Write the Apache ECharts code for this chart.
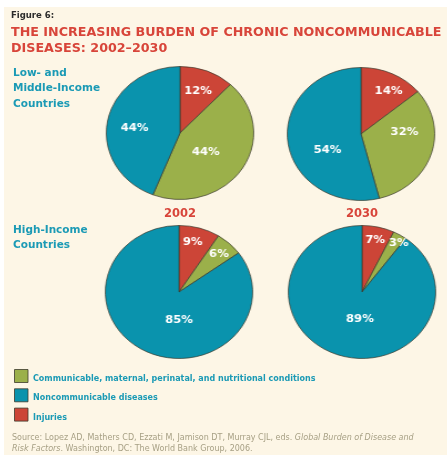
<!DOCTYPE html>
<html lang="en">
<head>
<meta charset="UTF-8">
<style>
  body { margin: 0; background: #fff; }
  #page { position: relative; width: 447px; height: 455px; }
  #main { position: absolute; left: 0; top: 0; width: 447px; height: 455px; }
  .pie { position: absolute; width: 150px; height: 150px; transform: scaleX(1.108); transform-origin: 50% 50%; }
</style>
</head>
<body>
<div id="page">
  <div id="main"></div>
  <div id="pieA" class="pie" style="left:105px; top:58px;"></div>
  <div id="pieB" class="pie" style="left:285.5px; top:58.5px;"></div>
  <div id="pieC" class="pie" style="left:104.3px; top:216.5px;"></div>
  <div id="pieD" class="pie" style="left:287px; top:217px;"></div>
</div>
<script src="https://cdn.jsdelivr.net/npm/echarts@6/dist/echarts.min.js"></script>
<script>
  // causes, in clockwise order from 12 o'clock
  var causes = ['Injuries', 'Communicable, maternal, perinatal, and nutritional conditions', 'Noncommunicable diseases'];
  var legendOrder = [1, 2, 0];
  var years = ['2002', '2030'];
  var groups = ['Low- and\nMiddle-Income\nCountries', 'High-Income\nCountries'];
  var lowMid2002 = [12, 44, 44];
  var lowMid2030 = [14, 32, 54];
  var high2002 = [9, 6, 85];
  var high2030 = [7, 3, 89];

  var colors = ['#cc4537', '#9bb04a', '#0a93ad'];
  var teal = '#1b9ab5';
  var red = '#d8453a';
  var bold = 'DejaVu Sans';

  // label spot for each slice: [fraction of radius, angle from top]
  var spots = {
    pieA: [[0.68, 21], [0.45, 129], [0.62, 277]],
    pieB: [[0.75, 30], [0.59, 87], [0.52, 241]],
    pieC: [[0.77, 14], [0.78, 44], [0.42, 180]],
    pieD: [[0.80, 13], [0.89, 34], [0.41, 184]]
  };
  var R = 66.5;

  function drawPie(id, values) {
    var chart = echarts.init(document.getElementById(id));
    chart.setOption({
      animation: false,
      series: [{
        type: 'pie',
        radius: R,
        center: [75, 75],
        startAngle: 90,
        clockwise: true,
        avoidLabelOverlap: false,
        data: values.map(function (v, i) {
          return { name: causes[i], value: v, itemStyle: { color: colors[i] } };
        }),
        itemStyle: { borderColor: '#3b3a2c', borderWidth: 0.7 },
        emphasis: { disabled: true },
        label: {
          show: true,
          position: 'inside',
          formatter: '{c}%',
          color: '#fff',
          fontFamily: bold,
          fontWeight: 'bold',
          fontSize: 10.5
        },
        labelLine: { show: false },
        labelLayout: function (p) {
          var s = spots[id][p.dataIndex];
          var a = s[1] * Math.PI / 180;
          return {
            x: 75 + s[0] * R * Math.sin(a),
            y: 75 - s[0] * R * Math.cos(a),
            align: 'center',
            verticalAlign: 'middle'
          };
        }
      }]
    });
  }

  drawPie('pieA', lowMid2002);
  drawPie('pieB', lowMid2030);
  drawPie('pieC', high2002);
  drawPie('pieD', high2030);

  var main = echarts.init(document.getElementById('main'));
  var g = [
    { type: 'rect', shape: { x: 4, y: 7, width: 443, height: 448 }, style: { fill: '#fdf6e6' } },
    { type: 'text', x: 11, y: 15.5, style: { text: 'Figure 6:', fill: '#2b2b2b', font: 'bold 8.5px ' + bold, verticalAlign: 'middle' } },
    { type: 'text', x: 11, y: 33, style: { text: 'THE INCREASING BURDEN OF CHRONIC NONCOMMUNICABLE', fill: red, font: 'bold 12.7px ' + bold, verticalAlign: 'middle' } },
    { type: 'text', x: 11, y: 49, style: { text: 'DISEASES: 2002\u20132030', fill: red, font: 'bold 12.7px ' + bold, verticalAlign: 'middle' } },
    { type: 'text', x: 13, y: 73, style: { text: groups[0], fill: teal, font: 'bold 10.5px ' + bold, lineHeight: 15.5, verticalAlign: 'top', y: -7.5 } },
    { type: 'text', x: 13, y: 230, style: { text: groups[1], fill: teal, font: 'bold 10.5px ' + bold, lineHeight: 15.5, verticalAlign: 'top', y: -7.5 } },
    { type: 'text', x: 180, y: 214, style: { text: years[0], fill: red, font: 'bold 11.5px ' + bold, align: 'center', verticalAlign: 'middle' } },
    { type: 'text', x: 362, y: 214, style: { text: years[1], fill: red, font: 'bold 11.5px ' + bold, align: 'center', verticalAlign: 'middle' } }
  ];
  legendOrder.forEach(function (ci, k) {
    var y = 369.5 + k * 19.3;
    g.push({ type: 'rect', shape: { x: 14.5, y: y, width: 13.5, height: 13 }, style: { fill: colors[ci], stroke: '#3b3a2c', lineWidth: 0.8 } });
    g.push({ type: 'text', x: 33, y: y + 9.5, style: { text: causes[ci], fill: teal, font: 'bold 8px ' + bold, verticalAlign: 'middle' } });
  });
  g.push({
    type: 'text', x: 12, y: 432,
    style: {
      text: '{n|Source: Lopez AD, Mathers CD, Ezzati M, Jamison DT, Murray CJL, eds. }{i|Global Burden of Disease and}\n{i|Risk Factors}{n|. Washington, DC: The World Bank Group, 2006.}',
      lineHeight: 11.5,
      rich: {
        n: { fill: '#a7a085', font: '8px ' + bold, lineHeight: 11.5 },
        i: { fill: '#a7a085', font: 'italic 8px ' + bold, lineHeight: 11.5 }
      }
    }
  });
  main.setOption({ animation: false, graphic: g });
</script>
</body>
</html>
